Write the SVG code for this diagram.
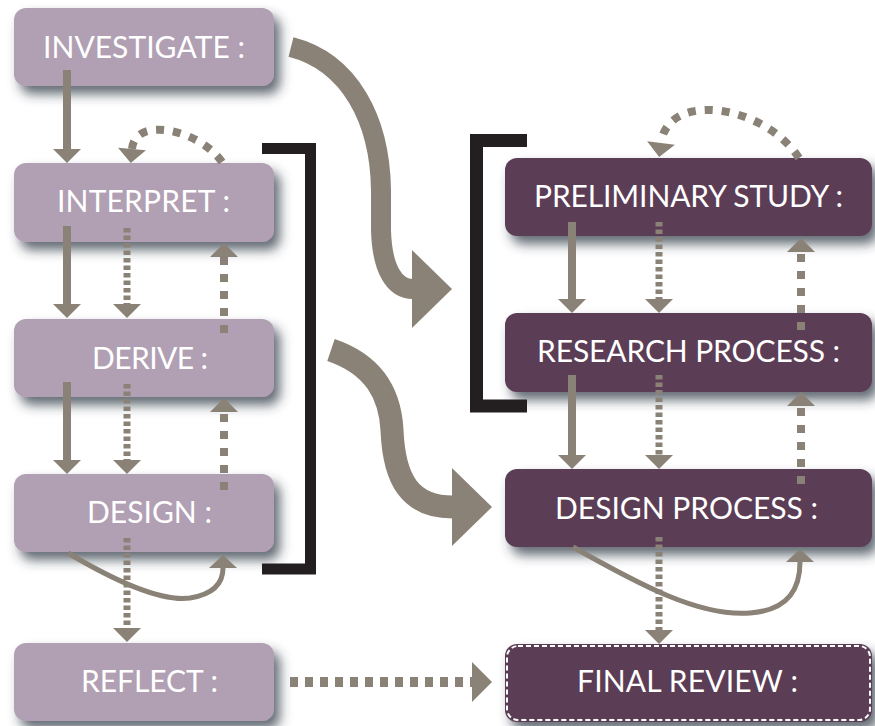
<svg xmlns="http://www.w3.org/2000/svg" width="875" height="726" viewBox="0 0 875 726">
<defs>
<filter id="sh" x="-10%" y="-25%" width="130%" height="160%">
<feGaussianBlur in="SourceAlpha" stdDeviation="6"/>
<feOffset dx="6" dy="8" result="b"/>
<feFlood flood-color="#2e3844" flood-opacity="0.75"/>
<feComposite in2="b" operator="in"/>
<feMerge><feMergeNode/><feMergeNode in="SourceGraphic"/></feMerge>
</filter>
<marker id="a" markerUnits="userSpaceOnUse" markerWidth="14" markerHeight="28" viewBox="0 0 14 28" refX="0" refY="14" orient="auto" overflow="visible"><path d="M0,0 L14,14 L0,28 z" fill="#8a8276"/></marker>
<marker id="ac" markerUnits="userSpaceOnUse" markerWidth="13" markerHeight="28" viewBox="0 0 13 28" refX="0" refY="14" orient="auto" overflow="visible"><path d="M0,0 L13,14 L0,28 z" fill="#8a8276"/></marker>
<marker id="big" markerUnits="userSpaceOnUse" markerWidth="40" markerHeight="78" viewBox="0 0 40 78" refX="1" refY="39" orient="auto" overflow="visible"><path d="M0,0 L40,39 L0,78 z" fill="#8a8276"/></marker>
<marker id="h" markerUnits="userSpaceOnUse" markerWidth="20" markerHeight="40" viewBox="0 0 20 40" refX="0" refY="20" orient="auto" overflow="visible"><path d="M0,0 L20,20 L0,40 z" fill="#8a8276"/></marker>
</defs>
<style>
.lb{fill:#b19fb3;filter:url(#sh)}
.rb{fill:#5b3e57;filter:url(#sh)}
.t{fill:#ffffff;font-family:Lato,"Open Sans","Liberation Sans",sans-serif;font-size:30px}
.c{fill:none;stroke:#8a8276}
.s{stroke-width:8;marker-end:url(#a)}
.d{stroke-width:7;stroke-dasharray:4.5 3;marker-end:url(#a)}
.u{stroke-width:8;stroke-dasharray:8 9;marker-end:url(#a)}
.cv{stroke-width:5;marker-end:url(#ac)}
.bg{marker-end:url(#big)}
.br{fill:none;stroke:#231f20;stroke-linejoin:miter}
</style>

<g id="investigate"><rect class="lb" x="14" y="8" width="260" height="78" rx="12"/><text class="t" x="43" y="58" textLength="202">INVESTIGATE :</text></g>
<g id="interpret"><rect class="lb" x="14" y="163" width="260" height="79" rx="12"/><text class="t" x="57" y="212" textLength="173">INTERPRET :</text></g>
<g id="derive"><rect class="lb" x="14" y="319" width="260" height="78" rx="12"/><text class="t" x="92" y="369" textLength="116">DERIVE :</text></g>
<g id="design"><rect class="lb" x="14" y="474" width="260" height="78" rx="12"/><text class="t" x="87" y="523" textLength="125">DESIGN :</text></g>
<g id="reflect"><rect class="lb" x="14" y="643" width="260" height="78" rx="12"/><text class="t" x="81" y="692" textLength="137">REFLECT :</text></g>

<g id="preliminary-study"><rect class="rb" x="505" y="158" width="367" height="78" rx="12"/><text class="t" x="534" y="207" textLength="309">PRELIMINARY STUDY :</text></g>
<g id="research-process"><rect class="rb" x="505" y="313" width="367" height="79" rx="12"/><text class="t" x="537" y="362" textLength="303">RESEARCH PROCESS :</text></g>
<g id="design-process"><rect class="rb" x="505" y="469" width="367" height="78" rx="12"/><text class="t" x="555" y="519" textLength="263">DESIGN PROCESS :</text></g>
<g id="final-review"><rect class="rb" x="505" y="644" width="367" height="78" rx="12"/><rect x="507" y="646" width="363" height="74" rx="11" fill="none" stroke="#ffffff" stroke-width="2" stroke-dasharray="5 3"/><text class="t" x="577" y="692" textLength="221">FINAL REVIEW :</text></g>

<g id="connectors">
<path class="c s" d="M67,70 V149"/>
<path class="c s" d="M67,226 V304"/>
<path class="c s" d="M67,382 V460"/>
<path class="c d" d="M127,228 V304"/>
<path class="c d" d="M127,384 V460"/>
<path class="c d" d="M127,538 V628"/>
<path class="c u" d="M224,333 V257"/>
<path class="c u" d="M224,490 V412"/>
<path class="c u" d="M222,162 C200,130 135,115 132,149"/>
<path class="c cv" d="M68,553 C110,578 160,602 190,598 C215,594 223,582 223,568"/>

<path class="c s" d="M572,222 V299"/>
<path class="c s" d="M572,375 V455"/>
<path class="c d" d="M659,222 V299"/>
<path class="c d" d="M659,375 V455"/>
<path class="c d" d="M659,537 V630"/>
<path class="c u" d="M801,330 V252"/>
<path class="c u" d="M801,484 V406"/>
<path class="c u" stroke-dasharray="10 8" d="M799,158 C765,105 668,90 661,143"/>
<path class="c cv" d="M573,547 C640,585 700,617 750,613 C790,610 800,587 800,562"/>

<path class="c bg" stroke-width="20" d="M291,47 C350,62 380,120 381,190 L381,230 C382,270 395,289 413,289"/>
<path class="c bg" stroke-width="23" d="M331,350 C375,365 390,395 392,430 C394,480 410,507 453,507"/>
<path class="c" stroke-width="10" stroke-dasharray="8 7" marker-end="url(#h)" d="M290,682 H472"/>
</g>

<g id="brackets">
<path class="br" stroke-width="11" d="M262,148.5 H310.5 V569 H262"/>
<path class="br" stroke-width="13" d="M527,140.5 H476.5 V406 H527"/>
</g>
</svg>
